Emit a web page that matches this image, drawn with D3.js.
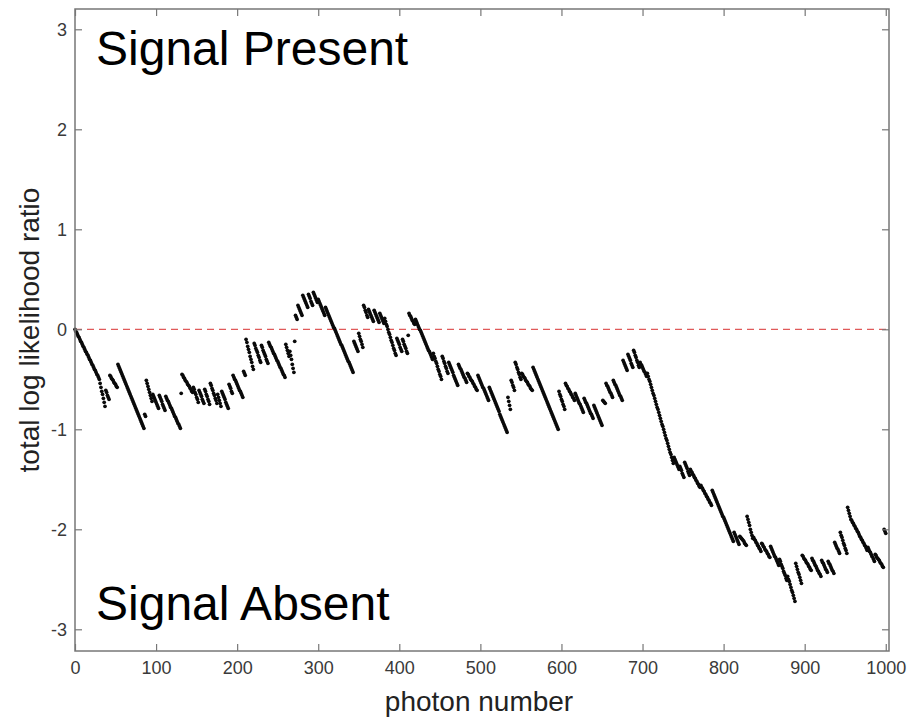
<!DOCTYPE html>
<html>
<head>
<meta charset="utf-8">
<script src="https://cdn.jsdelivr.net/npm/d3@7"></script>
<style>
  html, body { margin: 0; padding: 0; background: #fff; }
  svg { display: block; }
</style>
</head>
<body>
<svg id="chart" width="909" height="717"></svg>
<script>
// ---- data ----------------------------------------------------------
// total log likelihood ratio (in hundredths) for photon number 0..1000 (index = photon number)
const llr = [
  0,-2,-3,-5,-7,-8,-10,-12,-13,-15,-17,-18,-20,-22,-23,-25,-26,-28,-30,-31,-33,-35,-36,-38,-40,-41,-43,-45,-46,-48, // 0-29
  -50,-54,-58,-62,-65,-69,-73,-77,            // 30-37
  -61,-63,-66,-68,-70,                         // 38-42
  -46,-47,-49,-50,-51,-53,-54,-55,-57,-58,     // 43-52
  -35,-37,-39,-41,-43,-45,-47,-49,-51,-53,-55,-57,-59,-61,-63,-65,-67,-69,-71,-73,-75,-77,-79,-81,-83,-85,-87,-89,-91,-93,-95,-97,-99, // 53-85
  -85,-87,                                     // 86-87
  -51,-54,-57,-60,-63,-66,-69,-72,             // 88-95
  -65,-67,-69,-71,-73,-75,-77,-79,             // 96-103
  -66,-68,-70,-72,-75,-77,-79,-81,             // 104-111
  -67,-69,-71,-72,-74,-76,-78,-79,-81,-83,-85,-87,-88,-90,-92,-94,-95,-97,-99, // 112-130
  -64,                                         // 131
  -45,-46,-48,-49,-51,-52,-53,-55,-56,-57,-59,-60,-62,-63, // 132-145
  -58,-60,-63,-65,-68,-70,-73,                 // 146-152
  -61,-63,-65,-67,-70,-72,-74,                 // 153-159
  -60,-62,-65,-67,-70,-72,-75,                 // 160-166
  -54,-56,-59,-61,-64,-66,-69,-71,-74,         // 167-175
  -65,-68,-71,-74,-77,                         // 176-180
  -62,-64,-66,-68,-70,-73,-75,-77,-79,         // 181-189
  -55,-57,-59,-62,-64,                         // 190-194
  -46,-48,-50,-51,-53,-55,-57,-59,-61,-62,-64,-66,-68, // 195-207
  -42,-44,-46,                                 // 208-210
  -10,-13,-17,-20,-23,-27,-30,-33,-37,-40,     // 211-220
  -14,-16,-19,-21,-23,-26,-28,-31,-33,         // 221-229
  -16,-18,-21,-23,-25,-27,-30,-32,-34,         // 230-238
  -13,-15,-17,-18,-20,-22,-24,-25,-27,-29,-31,-32,-34,-36,-38,-39,-41,-43,-45,-46,-48, // 239-259
  -15,-18,-21,-24,-27,                         // 260-264
  -22,-26,-30,-35,-39,-43,                     // 265-270
  -12,                                         // 271
  14,12,10,                                    // 272-274
  24,22,20,18,16,14,                           // 275-280
  34,32,30,28,26,24,22,                        // 281-287
  35,33,31,28,26,24,                           // 288-293
  37,35,33,31,29,27,                           // 294-299
  30,28,26,24,22,20,18,16,14,                  // 300-308
  22,20,18,16,14,12,                           // 309-314
  10,8,6,4,2,1,-1,-3,-5,-7,-9,-11,-13,-15,-16,-18,-20,-22,-24,-26,-28,-30,-32,-33,-35,-37,-39,-41,-43, // 315-343
  -12,-14,-16,-18,-20,-22,                     // 344-349
  -4,-7,-10,-12,-15,-18,                       // 350-355
  24,22,19,17,14,12,                           // 356-361
  20,18,16,14,12,10,8,                         // 362-368
  19,17,15,13,11,9,7,                          // 369-375
  16,14,12,10,8,6,                             // 376-381
  11,8,5,3,0,-3,-5,-8,-11,-13,-16,-19,-21,-24,-26, // 382-396
  -9,-11,-13,-15,-18,-20,-22,                  // 397-403
  -10,-12,-15,-17,-19,-22,-24,                 // 404-410
  -6,                                          // 411
  16,14,13,11,9,8,6,5,                         // 412-419
  10,8,6,4,2,0,-1,-3,-5,-7,-9,-11,-13,-15,-17,-19,-21,-22,-24,-26,-28,-30, // 420-441
  -24,-27,-29,-32,-34,-37,-40,-42,-45,-47,-50, // 442-452
  -27,-29,-32,-34,-37,-39,-42,-44,             // 453-460
  -33,-35,-37,-39,-41,-43,-46,-48,-50,-52,-54,-56, // 461-472
  -35,-37,-39,-40,-42,-44,-46,-48,-49,-51,-53, // 473-483
  -44,-45,-47,-48,-50,-51,-52,-54,-55,-57,-58,-60,-61, // 484-496
  -46,-48,-50,-52,-54,-56,-58,-59,-61,-63,-65,-67,-69,-71, // 497-510
  -58,-60,-62,-64,-66,-68,-70,-72,-74,-76,-78,-80,-82,-85,-87,-89,-91,-93,-95,-97,-99,-101,-103, // 511-533
  -68,-72,-76,-80,                             // 534-537
  -51,-53,-56,-58,-61,                         // 538-542
  -33,-35,-38,-40,-43,-45,-48,-50,             // 543-550
  -44,-45,-47,-48,-49,-51,-52,-53,-55,-56,-57,-59,-60,-61, // 551-564
  -38,-40,-42,-44,-46,-48,-50,-52,-54,-56,-58,-60,-62,-64,-66,-68,-70,-72,-74,-76,-78,-80,-82,-84,-86,-88,-90,-92,-94,-96,-98,-100, // 565-596
  -62,-65,-67,-70,-72,-75,-77,-80,             // 597-604
  -54,-56,-57,-59,-60,-62,-63,-65,-66,-68,-69,-71, // 605-616
  -64,-66,-68,-70,-72,-74,-75,-77,-79,-81,-83, // 617-627
  -69,-71,-73,-74,-76,-78,-80,-82,-84,-85,-87,-89, // 628-639
  -76,-78,-80,-82,-84,-86,-88,-90,-92,-94,-96, // 640-650
  -71,-72,-73,-74,                             // 651-654
  -54,-56,-57,-59,-61,-63,-64,-66,-68,         // 655-663
  -51,-53,-55,-56,-58,-60,-62,-64,-66,-67,-69,-71, // 664-675
  -31,-33,-35,-37,-39,-41,                     // 676-681
  -25,-27,-29,-31,-34,-36,-38,                 // 682-688
  -21,-23,-26,-28,-31,-33,-36,-38,             // 689-696
  -33,-35,-36,-38,-40,-42,-43,-45,-47,         // 697-705
  -44,-47,-50,-52,-55,-58,-61,-64,-66,-69,-72,-75,-78,-80,-83,-86,-89,-92,-95,-97,-100,-103,-106,-109,-111,-114,-117,-120,-123,-125,-128,-131,-134, // 706-738
  -128,-130,-132,-134,-136,-138,-140,          // 739-745
  -137,-139,-141,-144,-146,-148,               // 746-751
  -133,-135,-137,-139,-142,-144,-146,          // 752-758
  -140,-142,-143,-145,-146,-148,-149,-151,-152,-154,-155,-157,-158, // 759-771
  -156,-158,-159,-161,-162,-164,-165,-167,-168,-170,-171,-173,-174,-176, // 772-785
  -161,-163,-165,-167,-169,-171,-173,-175,-177,-179,-181,-183,-185,-187,-188,-190,-192,-194,-196,-198,-200,-202,-204,-206,-208,-210,-212, // 786-812
  -203,-205,-207,-209,-211,-213,-215,          // 813-819
  -207,-208,-209,-210,-211,-212,-214,-215,-216, // 820-828
  -187,-190,-193,-196,-200,-203,-206,-209,     // 829-836
  -208,-210,-211,-213,-214,-216,-217,-219,-220,-222, // 837-846
  -214,-215,-217,-218,-220,-221,-222,-224,-225,-227,-228, // 847-857
  -217,-219,-221,-223,-225,-227,-228,-230,-232,-234,-236, // 858-868
  -230,-232,-235,-237,-239,-242,-244,-246,-249,-251, // 869-878
  -247,-250,-252,-255,-258,-261,-263,-266,-269,-272, // 879-888
  -234,-237,-240,-243,-245,-248,-251,-254,     // 889-896
  -226,-227,-229,-230,-231,-233,-234,-235,-237,-238,-240,-241, // 897-908
  -229,-231,-232,-234,-236,-237,-239,-241,-242,-244,-245,-247, // 909-920
  -231,-233,-234,-236,-238,-240,-241,-243,     // 921-928
  -232,-234,-235,-237,-239,-241,-242,-244,     // 929-936
  -213,-215,-217,-219,-220,-222,-224,          // 937-943
  -203,-206,-208,-211,-214,-216,-219,-221,-224, // 944-952
  -178,-181,-184,-187,-190,                    // 953-957
  -191,-193,-194,-196,-197,-199,-200,-202,-203,-205,-207,-208,-210,-211,-213,-214,-216,-217,-219,-221, // 958-977
  -218,-220,-222,-223,-225,-227,-228,-230,-232, // 978-986
  -225,-226,-228,-229,-230,-231,-233,-234,-235,-237,-238, // 987-997
  -200,-202,-204                               // 998-1000
];
const xTicks = [0, 100, 200, 300, 400, 500, 600, 700, 800, 900, 1000];
const yTicks = [-3, -2, -1, 0, 1, 2, 3];
const xDomain = [0, 1004];
const yDomain = [-3.217, 3.203];
const threshold = 0;
const xLabel = "photon number";
const yLabel = "total log likelihood ratio";
const topNote = "Signal Present";
const bottomNote = "Signal Absent";

// ---- layout --------------------------------------------------------
const W = 909, H = 717;
const m = { left: 75, right: 20, top: 9, bottom: 66 };
const svg = d3.select("#chart");
const font = "'Liberation Sans', Arial, Helvetica, sans-serif";

const x = d3.scaleLinear().domain(xDomain).range([m.left, W - m.right]);
const y = d3.scaleLinear().domain(yDomain).range([H - m.bottom, m.top]);

const x0 = x.range()[0], x1 = x.range()[1];
const y0 = y.range()[0], y1 = y.range()[1];
const tickLen = 7;
const axisColor = "#777";

// threshold dashed line
svg.append("line")
  .attr("x1", x0).attr("x2", x1)
  .attr("y1", y(threshold)).attr("y2", y(threshold))
  .attr("stroke", "#e05a5a").attr("stroke-width", 1.2)
  .attr("stroke-dasharray", "7,5");

// data dots
const pts = llr.map((v, i) => ({ n: i, v: v / 100 }));
svg.append("g").selectAll("circle").data(pts).join("circle")
  .attr("cx", d => x(d.n))
  .attr("cy", d => y(d.v))
  .attr("r", 1.85)
  .attr("fill", "#0a0a0a");

// axes
function styleAxis(g, showLabels) {
  g.select(".domain").remove();
  g.selectAll(".tick line").attr("stroke", axisColor).attr("stroke-width", 1.2);
  g.selectAll(".tick text")
    .attr("fill", "#3a3a3a")
    .style("font-family", font)
    .style("font-size", "18px");
  if (!showLabels) g.selectAll(".tick text").remove();
}

svg.append("g").attr("transform", `translate(0,${y0})`)
  .call(d3.axisBottom(x).tickValues(xTicks).tickSizeInner(-tickLen).tickSizeOuter(0).tickPadding(10).tickFormat(d3.format("d")))
  .call(g => styleAxis(g, true));
svg.append("g").attr("transform", `translate(0,${y1})`)
  .call(d3.axisTop(x).tickValues(xTicks).tickSizeInner(-tickLen).tickSizeOuter(0))
  .call(g => styleAxis(g, false));
svg.append("g").attr("transform", `translate(${x0},0)`)
  .call(d3.axisLeft(y).tickValues(yTicks).tickSizeInner(-tickLen).tickSizeOuter(0).tickPadding(8).tickFormat(d => d3.format("d")(d).replace("−", "-")))
  .call(g => styleAxis(g, true));
svg.append("g").attr("transform", `translate(${x1},0)`)
  .call(d3.axisRight(y).tickValues(yTicks).tickSizeInner(-tickLen).tickSizeOuter(0))
  .call(g => styleAxis(g, false));

// frame
svg.append("rect")
  .attr("x", x0).attr("y", y1)
  .attr("width", x1 - x0).attr("height", y0 - y1)
  .attr("fill", "none").attr("stroke", axisColor).attr("stroke-width", 1.5);

// axis titles
svg.append("text")
  .attr("x", (x0 + x1) / 2 - 3).attr("y", 711)
  .attr("text-anchor", "middle")
  .style("font-family", font).style("font-size", "28px").attr("fill", "#222")
  .text(xLabel);
svg.append("text")
  .attr("transform", `translate(39,${(y0 + y1) / 2}) rotate(-90)`)
  .attr("text-anchor", "middle")
  .style("font-family", font).style("font-size", "28px").attr("fill", "#222")
  .text(yLabel);

// annotations
svg.append("text")
  .attr("x", 96).attr("y", 65)
  .style("font-family", font).style("font-size", "48px").attr("fill", "#000")
  .text(topNote);
svg.append("text")
  .attr("x", 96).attr("y", 620)
  .style("font-family", font).style("font-size", "48px").attr("fill", "#000")
  .text(bottomNote);
</script>
</body>
</html>
